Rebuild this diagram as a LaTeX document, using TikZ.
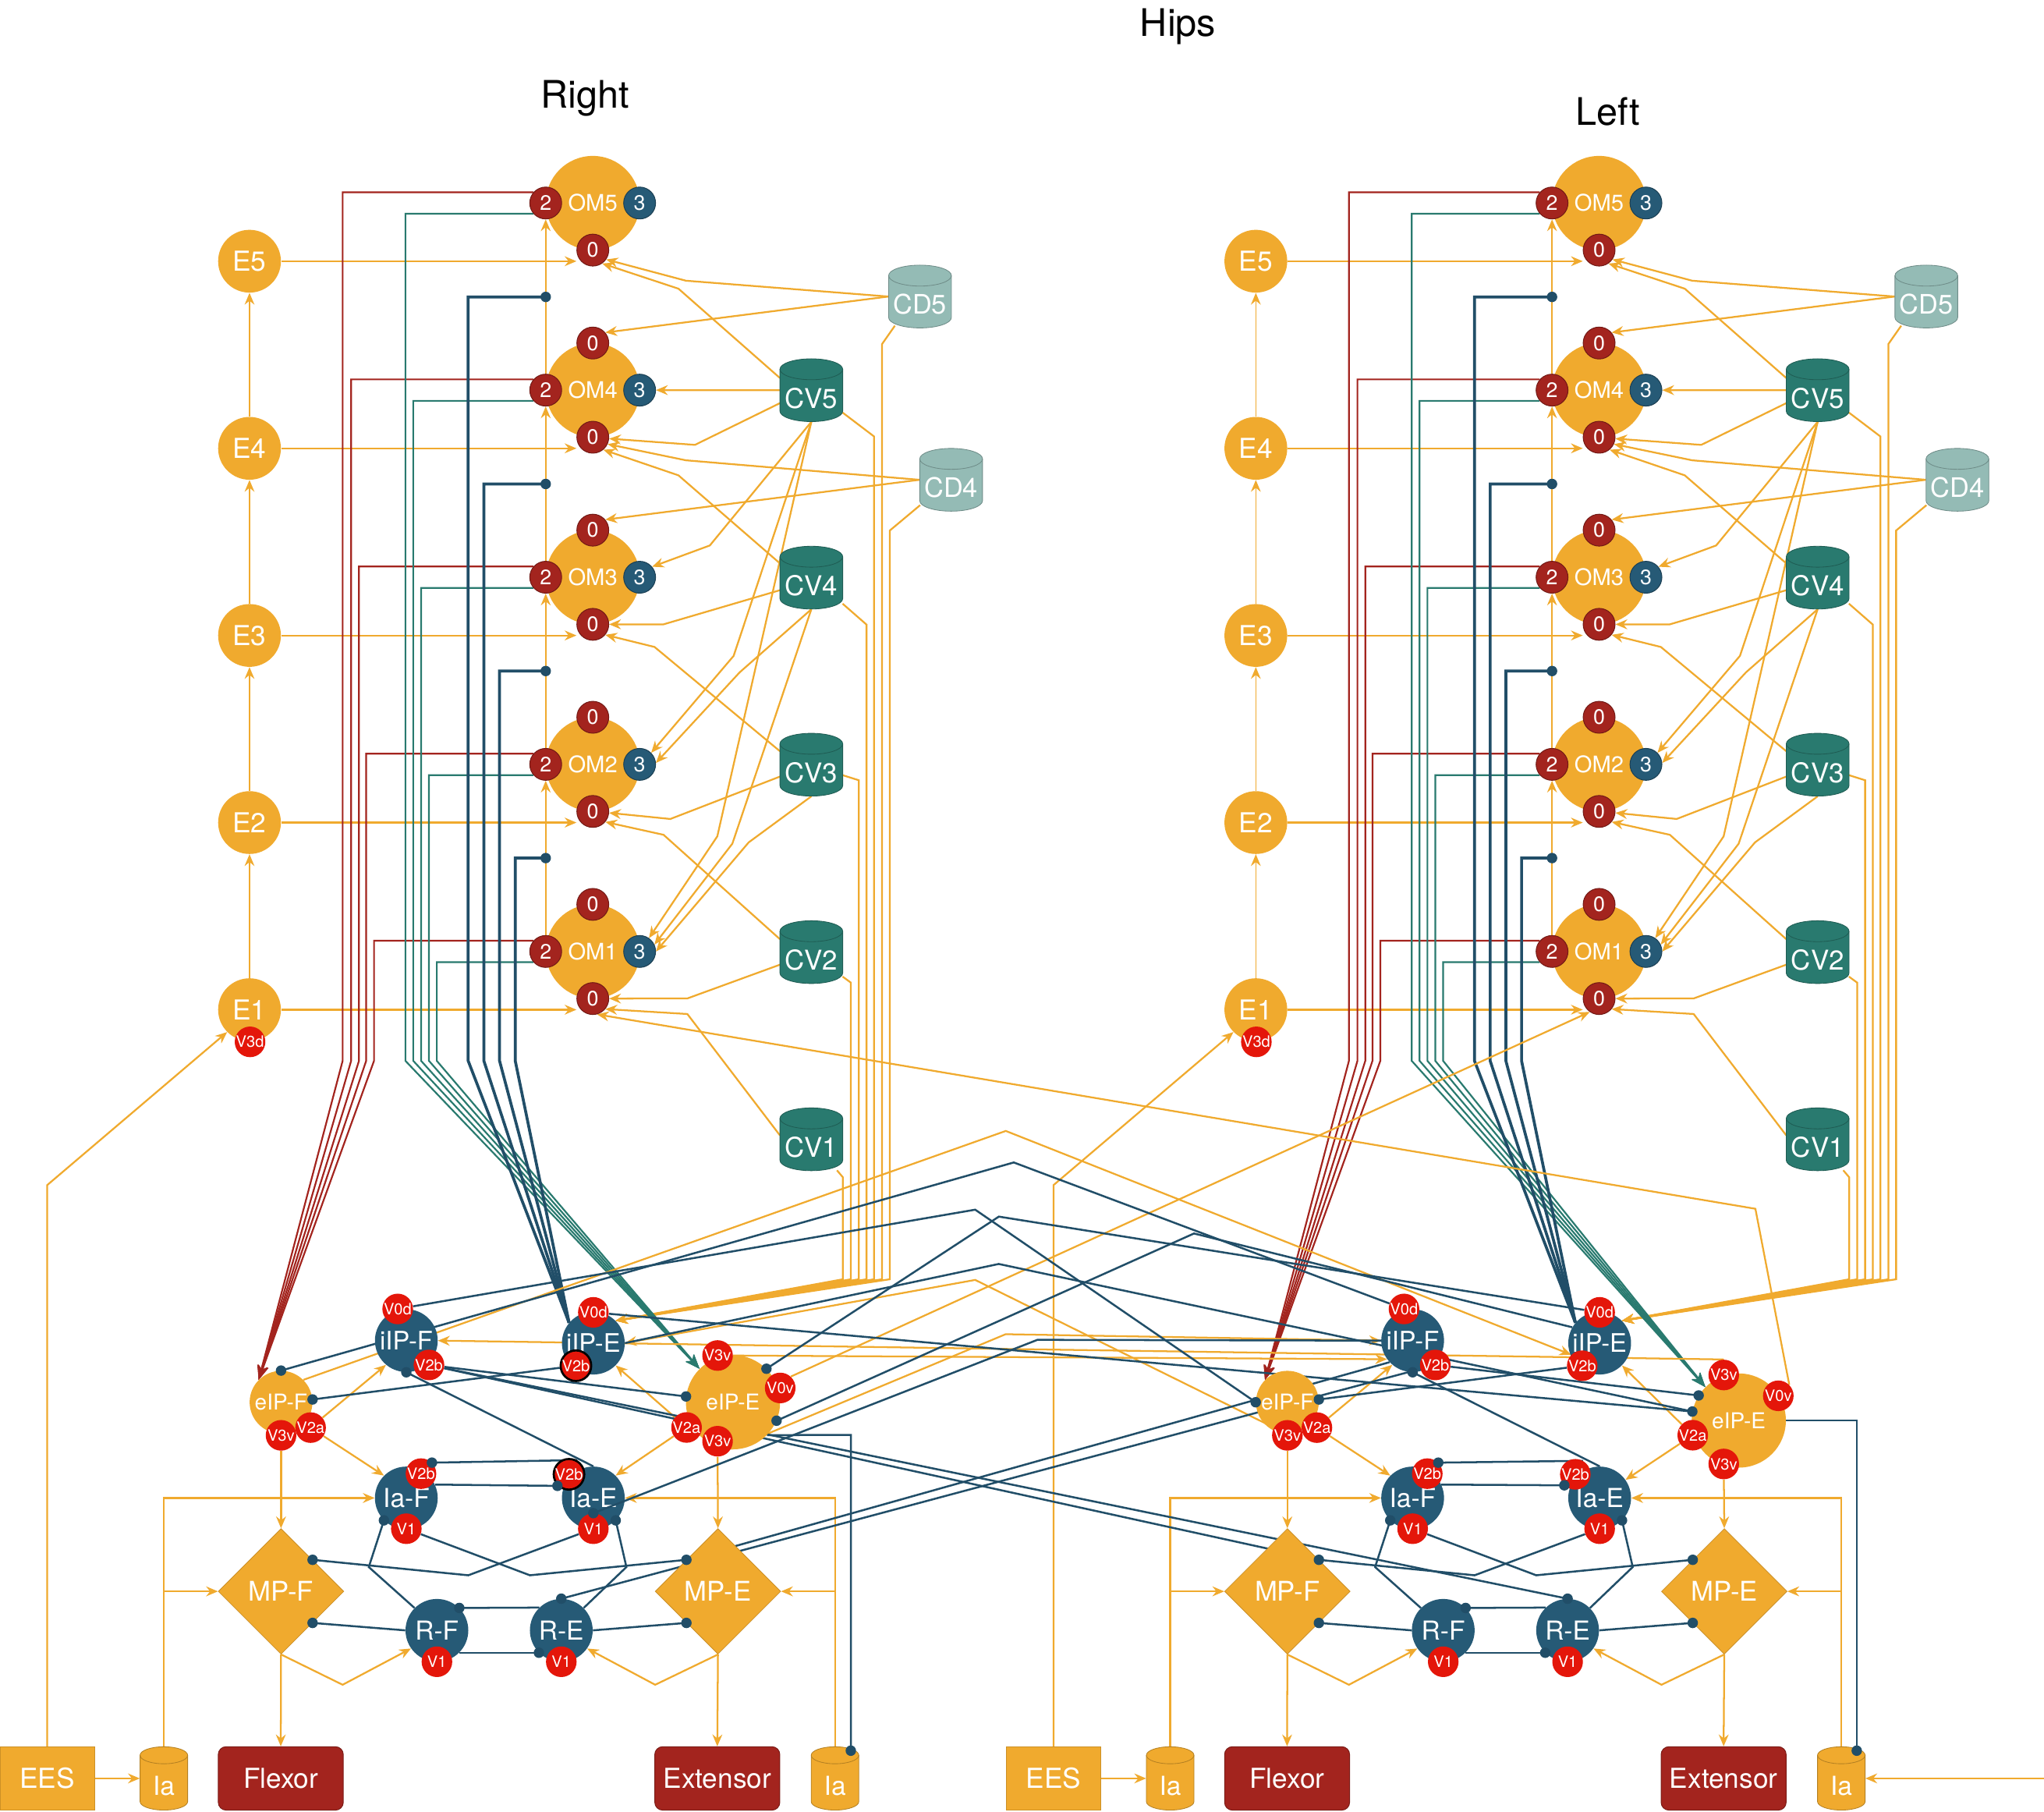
\documentclass[tikz,border=0pt]{standalone}
\usepackage{fontspec}
\setmainfont{TeX Gyre Heros}
\usetikzlibrary{arrows.meta,shapes.geometric,calc}
\pgfdeclarelayer{bg}
\pgfsetlayers{bg,main}
\definecolor{cor}{RGB}{240,170,46}
\definecolor{cdr}{RGB}{163,36,30}
\definecolor{cbl}{RGB}{38,90,118}
\definecolor{cbd}{RGB}{33,78,104}
\definecolor{ctl}{RGB}{41,122,111}
\definecolor{ccd}{RGB}{148,187,181}
\definecolor{cvr}{RGB}{228,22,10}
\newcommand\fsz[1]{\fontsize{#1pt}{#1pt}\selectfont}
\tikzset{
  ex/.style={draw=cor,line width=1.35pt,-{Stealth[length=9pt,width=7.5pt,inset=3pt]}},
  ext/.style={ex,line width=1pt},
  inl/.style={draw=cbd,line width=1.5pt},
  inthick/.style={draw=cbd,line width=2.2pt},
  redl/.style={draw=cdr,line width=1.3pt,-{Stealth[length=11pt,width=8pt,inset=3pt]}},
  teall/.style={draw=ctl,line width=1.3pt,-{Stealth[length=11pt,width=8pt,inset=3pt]}},
  nbase/.style={circle,inner sep=0pt,text=white},
  enode/.style={nbase,fill=cor,minimum size=48pt,font=\fsz{21}},
  omnode/.style={nbase,fill=cor,minimum size=72pt,font=\fsz{17.4}},
  bnode/.style={nbase,fill=cbl,minimum size=48pt,font=\fsz{20}},
  onode/.style={nbase,fill=cor,font=\fsz{16.7}},
  bdg/.style={nbase,minimum size=24.4pt,line width=0.6pt,font=\fsz{16}},
  bred/.style={bdg,fill=cdr,draw=cdr!70!black},
  bblu/.style={bdg,fill=cbl,draw=cbl!70!black},
  vb/.style={nbase,fill=cvr,minimum size=23.4pt,font=\fsz{12}},
  vbk/.style={vb,draw=black,line width=1.6pt},
  diam/.style={diamond,aspect=1,inner sep=0pt,minimum width=96pt,minimum height=96pt,fill=cor,draw=cor!85!black,line width=0.5pt,text=white,font=\fsz{20.7}},
  mbox/.style={rectangle,rounded corners=6pt,minimum width=95.6pt,minimum height=48.5pt,fill=cdr,draw=cdr!75!black,line width=0.6pt,text=white,font=\fsz{21}},
  eesbox/.style={rectangle,minimum width=72.2pt,minimum height=48.5pt,fill=cor,draw=cor!85!black,line width=0.5pt,text=white,font=\fsz{21}},
  ttl/.style={font=\fsz{29},text=black},
}
\newcommand\dotat[1]{\fill[cbd] (#1) circle[radius=4pt];}
\newcommand\Cyl[9]{%
 \fill[#7] ({#2-#4},{#3-#5+#6}) -- ({#2-#4},{#3+#5-#6}) arc[start angle=180,end angle=360,x radius=#4pt,y radius=#6pt] -- ({#2+#4},{#3-#5+#6}) arc[start angle=0,end angle=180,x radius=#4pt,y radius=#6pt] -- cycle;
 \draw[#7!75!black,line width=0.5pt] ({#2-#4},{#3-#5+#6}) -- ({#2-#4},{#3+#5-#6}) arc[start angle=180,end angle=360,x radius=#4pt,y radius=#6pt] -- ({#2+#4},{#3-#5+#6}) arc[start angle=0,end angle=180,x radius=#4pt,y radius=#6pt] -- cycle;
 \draw[#7!75!black,line width=0.5pt] ({#2-#4},{#3-#5+#6}) arc[start angle=180,end angle=360,x radius=#4pt,y radius=#6pt];
 \node[inner sep=0pt,minimum width={2*#4pt},minimum height={2*#5pt}] (#1) at (#2,#3) {};
 \node[text=white,inner sep=0pt,font=\fsz{#9}] at (#2,{#3+6}) {#8};
}
\newcommand\Half[3]{%
\begin{scope}[xshift=#2pt]
\foreach \i/\y in {5/199.7,4/342.75,3/485.8,2/628.85,1/771.9}{
  \node[enode] (e#1\i) at (190.8,\y) {E\i};}
\node[vb] (v3d#1) at (191.2,796.5) {V3d};
\foreach \i/\y in {5/155.2,4/298.25,3/441.3,2/584.35,1/727.4}{
  \node[omnode] (om#1\i) at (453.3,\y) {OM\i};
  \node[bred] (omb#1\i) at (417.3,\y) {2};
  \node[bblu] (omt#1\i) at (489.1,\y) {3};
  \node[bred] (omz#1\i) at (453.3,\y+36) {0};
}
\foreach \i/\y in {4/298.25,3/441.3,2/584.35,1/727.4}{
  \node[bred] (omu#1\i) at (453.3,\y-36) {0};}
\Cyl{cd5#1}{703.5}{226.7}{24}{24}{8}{ccd}{CD5}{20.5}
\Cyl{cd4#1}{727.3}{366.8}{24}{24}{8}{ccd}{CD4}{20.5}
\Cyl{cv5#1}{620.4}{298.3}{24}{24}{8}{ctl}{CV5}{20.8}
\Cyl{cv4#1}{620.4}{441.6}{24}{24}{8}{ctl}{CV4}{20.8}
\Cyl{cv3#1}{620.4}{584.6}{24}{24}{8}{ctl}{CV3}{20.8}
\Cyl{cv2#1}{620.4}{727.9}{24}{24}{8}{ctl}{CV2}{20.8}
\Cyl{cv1#1}{620.4}{871}{24}{24}{8}{ctl}{CV1}{20.8}
\node[onode,minimum size=48pt] (eipf#1) at (214.9,1072) {eIP-F};
\node[vb] (eipfv3#1) at (214.9,1097.3) {V3v};
\node[vb] (eipfv2#1) at (237.5,1091.4) {V2a};
\node[bnode,font=\fsz{19.5}] (iipf#1) at (310.7,1024.9) {iIP-F};
\node[vb] (iipfv0#1) at (304.1,1000.7) {V0d};
\node[vb] (iipfv2#1) at (328,1043.5) {V2b};
\node[bnode,font=\fsz{19.5}] (iipe#1) at (453.7,1026.8) {iIP-E};
\node[vb] (iipev0#1) at (453.7,1003.3) {V0d};
\node[#3] (iipev2#1) at (440.4,1044.1) {V2b};
\node[bnode] (iaf#1) at (310.7,1145.2) {Ia-F};
\node[vb] (iafv2#1) at (321.9,1126.6) {V2b};
\node[vb] (iafv1#1) at (310.7,1168.7) {V1};
\node[bnode] (iae#1) at (453.7,1145.2) {Ia-E};
\node[#3] (iaev2#1) at (435.1,1127.1) {V2b};
\node[vb] (iaev1#1) at (453.7,1168.7) {V1};
\node[bnode] (rf#1) at (334.1,1246.4) {R-F};
\node[vb] (rfv1#1) at (334.1,1270.4) {V1};
\node[bnode] (re#1) at (429.2,1246.4) {R-E};
\node[vb] (rev1#1) at (429.2,1270.4) {V1};
\node[diam] (mpf#1) at (214.9,1216.6) {MP-F};
\node[diam] (mpe#1) at (549,1216.6) {MP-E};
\node[mbox] (flex#1) at (214.7,1359.6) {Flexor};
\node[mbox] (ext#1) at (548.5,1359.6) {Extensor};
\node[eesbox] (ees#1) at (36.1,1359.6) {EES};
\Cyl{iaa#1}{125.3}{1359.6}{18.2}{24.2}{6.5}{cor}{Ia}{20}
\Cyl{iab#1}{638.5}{1359.6}{18.2}{24.2}{6.5}{cor}{Ia}{20}
\begin{pgfonlayer}{bg}
\foreach \a/\b in {1/2,2/3,3/4,4/5}{\draw[ext] (e#1\a.north) -- (e#1\b.south);}
\foreach \i in {1,...,5}{\draw[ex] (e#1\i.east) -- (e#1\i -| omz#1\i.west);}
\foreach \a/\b in {1/2,2/3,3/4,4/5}{\draw[ext] (omb#1\a.north) -- (omb#1\b.south);}
% CD5
\draw[ex] (cd5#1.west) -- (524.5,214.6) -- (omz#15.-35);
\draw[ex] (cd5#1.west) -- (omu#14.40);
\draw[ex] (684.3,249) -- (674.5,263) -- (674.5,978) -- (iipe#1.45);
% CV5
\draw[ex] (596.4,289) -- (518.8,220.7) -- (omz#15.-55);
\draw[ex] (cv5#1.west) -- (omt#14.east);
\draw[ex] (596.4,308.2) -- (531.4,340.1) -- (omz#14.-5);
\draw[ex] (cv5#1.south) -- (542.8,417) -- (omt#13.40);
\draw[ex] (cv5#1.south) -- (561,501.4) -- (omt#12.45);
\draw[ex] (cv5#1.south) -- (548.5,639.4) -- (omt#11.55);
\draw[ex] (644.3,315.4) -- (668.4,333.7) -- (668.4,978) -- (iipe#1.45);
% CD4
\draw[ex] (cd4#1.west) -- (524.5,351.9) -- (omz#14.-25);
\draw[ex] (cd4#1.west) -- (omu#13.40);
\draw[ex] (703.6,386.2) -- (680.4,405.6) -- (680.4,978) -- (iipe#1.45);
% CV4
\draw[ex] (596.4,430.7) -- (518.8,363.4) -- (omz#14.-50);
\draw[ex] (596.4,451.2) -- (507.4,477.3) -- (omz#13.east);
\draw[ex] (cv4#1.south) -- (565.6,514) -- (omt#12.5);
\draw[ex] (cv4#1.south) -- (560,645) -- (omt#11.25);
\draw[ex] (644.3,461.5) -- (662.6,477.5) -- (662.6,978) -- (iipe#1.45);
% CV3
\draw[ex] (596.4,574.3) -- (500.5,494.6) -- (omz#13.-40);
\draw[ex] (596.4,593.7) -- (512.6,626.1) -- (omz#12.-5);
\draw[ex] (cv3#1.south) -- (572.5,644) -- (omt#11.0);
\draw[ex] (644.3,592.6) -- (656.7,596.5) -- (656.7,978) -- (iipe#1.45);
% CV2
\draw[ex] (596.4,718) -- (507.4,638.2) -- (omz#12.-40);
\draw[ex] (596.4,737.5) -- (525.6,763.3) -- (omz#11.east);
\draw[ex] (644.3,746.6) -- (650.6,751.2) -- (650.6,978) -- (iipe#1.45);
% CV1
\draw[ex] (596.4,868) -- (525.6,775.2) -- (omz#11.-40);
\draw[ex] (640,894.7) -- (644.5,900) -- (644.5,978) -- (iipe#1.45);
% bundles
\foreach \i/\x in {5/262,4/268.5,3/274.5,2/280,1/286}{
  \draw[redl] (omb#1\i.139) -| (\x,811) -- (eipf#1.135);}
\foreach \i/\x in {5/310,4/316,3/322,2/328,1/334}{
  \draw[teall] (omb#1\i.221) -| (\x,811) -- (eipe#1.135);}
\foreach \x/\y in {358/227,370/370,382/513,394/656}{
  \draw[inthick] (iipe#1.140) -- (\x,811) -- (\x,\y) -- (417.3,\y);}
% bottom module
\draw[ex] (eipfv2#1) -- (iipf#1.230);
\draw[ex] (eipfv2#1) -- (iaf#1.135);
\draw[ex] (eipfv3#1) -- (mpf#1.north);
\draw[ex] (mpf#1.south) -- (flex#1.north);
\draw[ex] (mpf#1.south) -- (262,1288) -- (rf#1.215);
\draw[ex] (mpe#1.south) -- (ext#1.north);
\draw[ex] (mpe#1.south) -- (501,1288) -- (re#1.-35);
\draw[ex] (ees#1.east) -- (iaa#1.west);
\draw[ex] (ees#1.north) -- (36.1,906) -- (e#11.225);
\draw[ex] (iaa#1.north) -- (125.3,1145.2) -- (iaf#1.west);
\draw[ex] (125.3,1216.6) -- (mpf#1.west);
\draw[ex] (iab#1.north) -- (638.5,1145.2) -- (iae#1.east);
\draw[ex] (638.5,1216.6) -- (mpe#1.east);
\draw[inl] (iipev2#1) -- (eipf#1.5);
\draw[inl] (iae#1.north) -- (iipf#1.south);
\draw[inl] (iafv1#1) -- (405.2,1204.3) -- (mpe#1.north west);
\draw[inl] (iaev1#1) -- (358.1,1204.3) -- (mpf#1.north east);
\draw[inl] (rf#1.135) -- (282,1198) -- (iaf#1.225);
\draw[inl] (re#1.45) -- (479,1198) -- (iae#1.-45);
\draw[inl] (re#1.134) -- (rf#1.45);
\draw[inl] (rf#1.-45) -- (re#1.225);
\draw[inl] (rf#1.west) -- (mpf#1.south east);
\draw[inl] (re#1.east) -- (mpe#1.south west);
\draw[inl] (iaev2#1.60) -- (iafv2#1.45);
\draw[inl] (iaf#1.25) -- (iaev2#1.225);
\end{pgfonlayer}
\dotat{eipf#1.5}
\dotat{iipf#1.south}
\dotat{mpe#1.north west}
\dotat{mpf#1.north east}
\dotat{iaf#1.225}
\dotat{iae#1.-45}
\dotat{rf#1.45}
\dotat{re#1.225}
\dotat{mpf#1.south east}
\dotat{mpe#1.south west}
\dotat{iafv2#1.45}
\dotat{iaev2#1.225}
\foreach \y in {227,370,513,656}{\dotat{417.3,\y}}
\end{scope}}

\begin{document}
\begin{tikzpicture}[x=1pt,y=-1pt]
\useasboundingbox (0,0) rectangle (1563,1384.7);
\begin{pgfonlayer}{bg}\fill[white] (0,0) rectangle (1563,1384.7);\end{pgfonlayer}
\node[ttl] (hips) at (900.8,20.5) {Hips};
\node[ttl] (right) at (447.3,75.3) {Right};
\node[ttl] (left) at (1229.6,85.6) {Left};
% eIP-E nodes
\node[onode,minimum size=72pt] (eipeR) at (560.5,1072) {eIP-E};
\node[vb] (eipev3tR) at (548.7,1036.3) {V3v};
\node[vb] (eipev0R) at (596.6,1061.1) {V0v};
\node[vb] (eipev2R) at (525,1091.3) {V2a};
\node[vb] (eipev3bR) at (548.7,1101.8) {V3v};
\node[onode,minimum size=72pt] (eipeL) at (1329.6,1086) {eIP-E};
\node[vb] (eipev3tL) at (1318.1,1051.2) {V3v};
\node[vb] (eipev0L) at (1359.8,1067.1) {V0v};
\node[vb] (eipev2L) at (1294.4,1097.2) {V2a};
\node[vb] (eipev3bL) at (1318.1,1119.2) {V3v};
\Half{R}{0}{vbk}
\Half{L}{769.5}{vb}
\coordinate (rin) at (1563,1359.6);
\begin{pgfonlayer}{bg}
\draw[ex] (eipev2R) -- (iipeR.-45);
\draw[ex] (eipev2R) -- (iaeR.45);
\draw[ex] (eipev3bR) -- (mpeR.north);
\draw[inl] (iipfv2R) -- (eipeR.173.5);
\draw[inl] (eipeR.-44) -- (650.6,1097) -- (650.6,1338.4);
\draw[ex] (eipev2L) -- (iipeL.-45);
\draw[ex] (eipev2L) -- (iaeL.35);
\draw[ex] (eipev3bL) -- (mpeL.north);
\draw[inl] (iipfv2L) -- (eipeL.148);
\draw[inl] (eipeL.east) -- (1419.8,1086) -- (1419.8,1338.4);
\draw[ex] (rin) -- (iabL.east);
% cross excitatory
\draw[ex] (eipev0L.45) -- (1342.3,924.1) -- (omzR1.-75);
\draw[ex] (eipev0R.47) -- (omzL1.235);
\draw[ex] (eipfR.45) -- (769.1,864.6) -- (iipev2L.135);
\draw[ex] (eipfv3L.150) -- (745.7,978.5) -- (iipeR.east);
\draw[ex] (eipev3tL.north) -- (iipfR.east);
\draw[ex] (eipev3bR.-30) -- (769,1020) -- (iipfL.west);
\draw[ex] (eipev3tR.east) -- (iipfL.216);
% cross inhibitory
\draw[inl] (iipfv0L) -- (775.2,888.7) -- (eipfR.90);
\draw[inl] (iipfv0R) -- (745.7,924.8) -- (eipfL.180);
\draw[inl] (iipev0L) -- (763.8,930.1) -- (eipeR.45);
\draw[inl] (iipeL.150) -- (913,943) -- (eipeR.-23);
\draw[inl] (iipeR.east) -- (763.7,966.3) -- (eipeL.169);
\draw[inl] (iipev0R) -- (eipeL.169);
\draw[inl] (iipfv2R) -- (reL.90);
\draw[inl] (iipfv2L) -- (reR.90);
\draw[inl] (iipfL.223) -- (mpeR.north west);
\draw[inl] (iipfv2R) -- (mpfL.north east);
\end{pgfonlayer}
\draw[inl] (iipfL.west) -- (793.3,1024.3) -- (iaev1R.90);
\dotat{eipeR.173.5}
\dotat{650.6,1338.4}
\dotat{eipeL.169}
\dotat{eipeL.148}
\dotat{1419.8,1338.4}
\dotat{eipfR.90}
\dotat{reL.90}
\dotat{reR.90}
\dotat{eipeR.-23}
\dotat{eipeR.45}
\dotat{eipfL.180}
\dotat{iaev1R.90}
\end{tikzpicture}
\end{document}
